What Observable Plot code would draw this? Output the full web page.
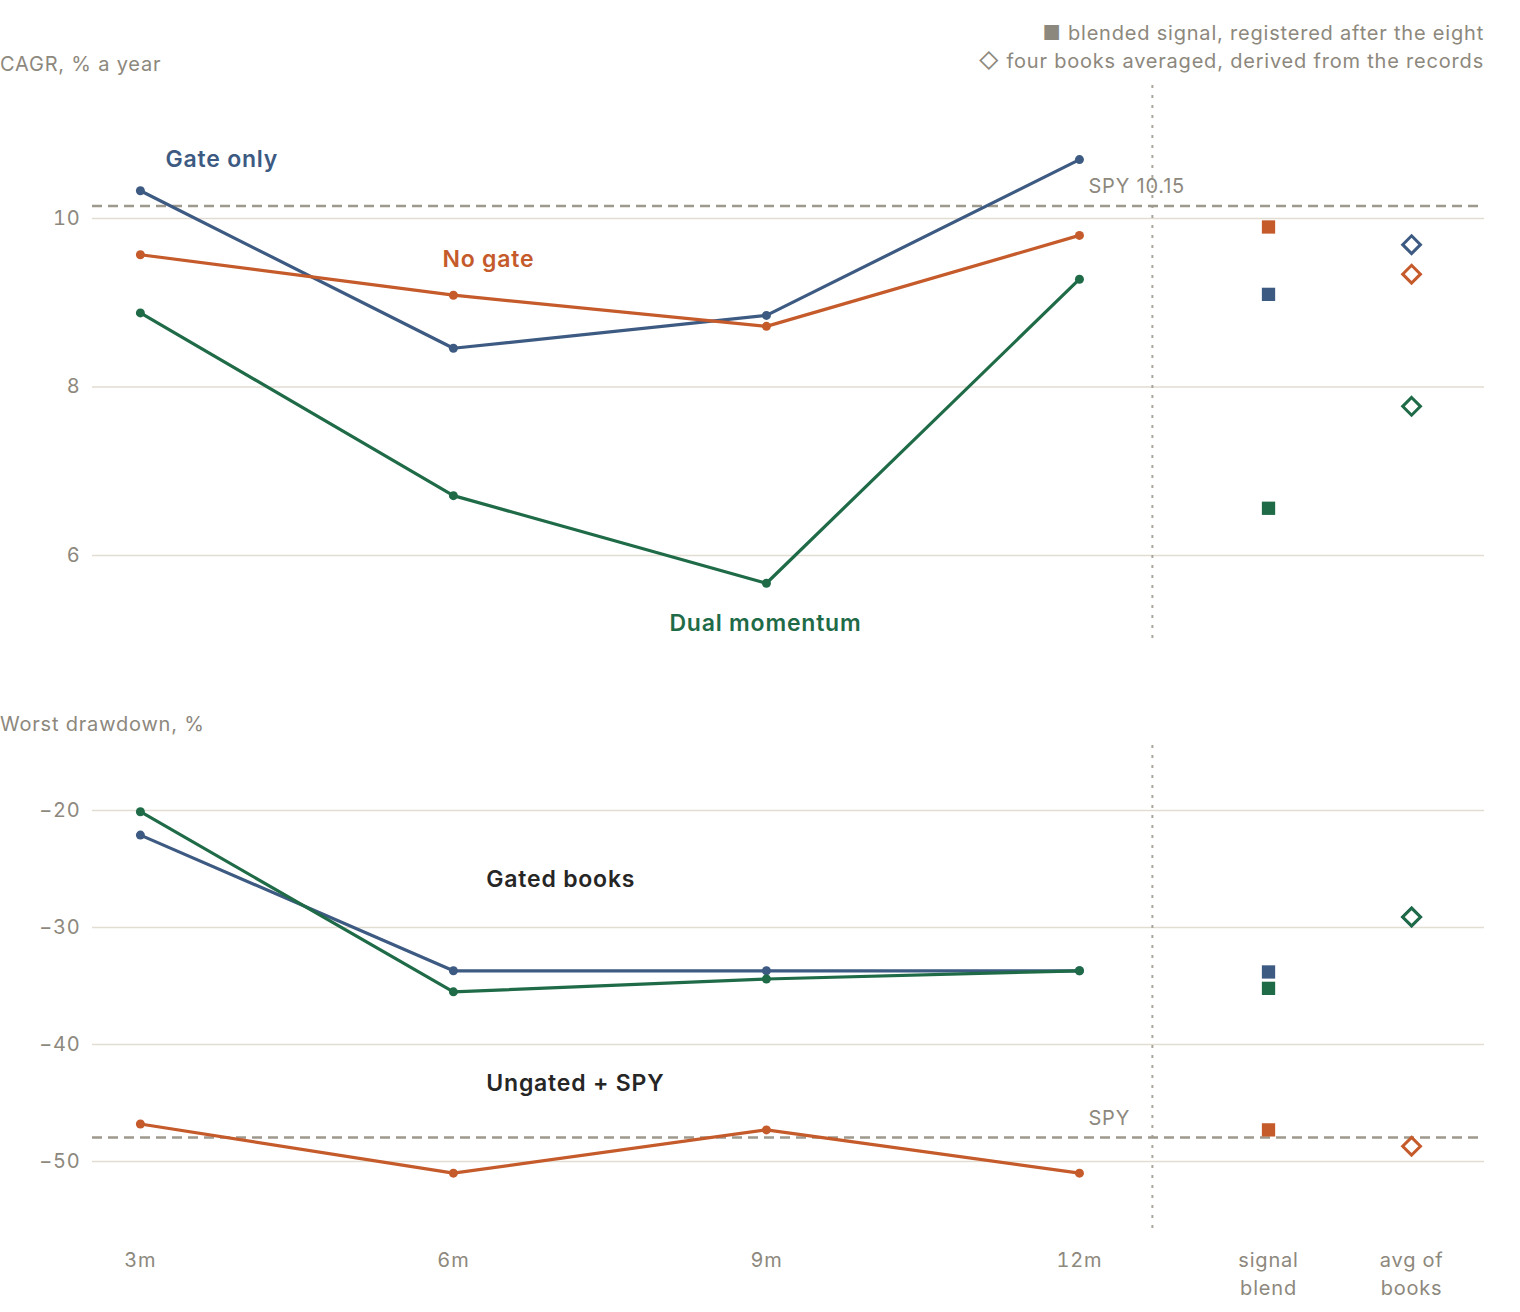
<!DOCTYPE html>
<html>
<head>
<meta charset="utf-8">
<script src="https://cdn.jsdelivr.net/npm/d3@7"></script>
<script src="https://cdn.jsdelivr.net/npm/@observablehq/plot@0.6"></script>
<style>
  html, body { margin: 0; padding: 0; background: #fff; }
  #root { position: relative; width: 1520px; height: 1312px; font-family: Inter, "Noto Sans", sans-serif; color: #8d887d; }
  .t { position: absolute; font-size: 20px; line-height: 24px; white-space: nowrap; letter-spacing: 0.8px; }
  .chart { position: absolute; left: 0; }
</style>
</head>
<body>
<div id="root"></div>
<script>
// ---- data ----
const horizons = ["3m", "6m", "9m", "12m"];
const books = ["Gate only", "No gate", "Dual momentum"];
const gateOnlyCagr = [10.33, 8.46, 8.85, 10.70];
const noGateCagr   = [9.57, 9.09, 8.72, 9.80];
const dualCagr     = [8.88, 6.71, 5.67, 9.28];
const blendCagr    = [9.10, 9.90, 6.56];   // signal blend, per book
const avgCagr      = [9.69, 9.34, 7.77];   // avg of books, per book
const spyCagr = 10.15;

const gateOnlyDd = [-22.1, -33.7, -33.7, -33.7];
const noGateDd   = [-46.8, -51.0, -47.3, -51.0];
const dualDd     = [-20.1, -35.5, -34.4, -33.7];
const blendDd    = [-33.8, -47.3, -35.2];
const avgDd      = [-29.1, -48.7, -29.1];
const spyDd = -47.95;

const extraCats = ["signal\nblend", "avg of\nbooks"];
const cagrTicks = [6, 8, 10];
const ddTicks = [-20, -30, -40, -50];

// ---- layout (x slots) ----
const slot = {"3m": 0, "6m": 1, "9m": 2, "12m": 3, blend: 3.604, avg: 4.061};
const divider = 3.233;
const xDomain = [-0.153, 4.294];
const colors = {"Gate only": "#3d5a82", "No gate": "#c55a2b", "Dual momentum": "#1f6b48"};
const grid = "#e2ddd2", dash = "#9e998d", muted = "#8d887d";
const font = "Inter, 'Noto Sans', sans-serif";

function seriesRows(arrs) {
  const rows = [];
  books.forEach((b, i) => arrs[i].forEach((v, j) => rows.push({book: b, x: slot[horizons[j]], v})));
  return rows;
}
function pointRows(arr, key) {
  return books.map((b, i) => ({book: b, x: slot[key], v: arr[i]}));
}
const minus = d => d < 0 ? "\u2212" + (-d) : String(d);

const root = document.getElementById("root");
function addText(txt, style) {
  const d = document.createElement("div");
  d.className = "t";
  d.textContent = txt;
  Object.assign(d.style, style);
  root.appendChild(d);
}
addText("\u25A0 blended signal, registered after the eight", {right: "36px", top: "21px"});
addText("\u25C7 four books averaged, derived from the records", {right: "36px", top: "49px"});
addText("CAGR, % a year", {left: "0px", top: "52px"});
addText("Worst drawdown, %", {left: "0px", top: "712px"});

function panel({lines, blend, avg, spy, spyLabel, ticks, yDomain, labels, height, marginBottom, showX}) {
  const marks = [
    Plot.ruleY(ticks, {stroke: grid, strokeWidth: 1.5}),
    Plot.ruleX([divider], {stroke: "#aaa59a", strokeWidth: 2, strokeDasharray: "3,7"}),
    Plot.ruleY([spy], {stroke: dash, strokeWidth: 2.5, strokeDasharray: "10,6"}),
    Plot.text([spyLabel], {x: slot["12m"], y: spy, text: d => d, dx: 9, dy: -19, textAnchor: "start", fill: muted, fontSize: 20}),
    Plot.axisY(ticks, {tickSize: 0, tickPadding: 12, tickFormat: minus, fontSize: 20, fill: muted, label: null}),
    Plot.line(lines, {x: "x", y: "v", z: "book", stroke: d => colors[d.book], strokeWidth: 3.2}),
    Plot.dot(lines, {x: "x", y: "v", fill: d => colors[d.book], r: 4.5}),
    Plot.dot(blend, {x: "x", y: "v", symbol: "square", fill: d => colors[d.book], r: 7.5}),
    Plot.dot(avg, {x: "x", y: "v", symbol: "diamond2", stroke: d => colors[d.book], strokeWidth: 3, fill: "white", r: 8}),
    Plot.text(labels, {x: "x", y: "v", text: "text", fill: "fill", textAnchor: "start", fontSize: 23, fontWeight: 600})
  ];
  if (showX) {
    marks.push(Plot.axisX([0, 1, 2, 3, slot.blend, slot.avg], {
      tickSize: 0, tickPadding: 19, fontSize: 20, fill: muted, lineHeight: 1.4, label: null,
      tickFormat: d => [...horizons, ...extraCats][[0, 1, 2, 3, slot.blend, slot.avg].indexOf(d)]
    }));
  }
  return Plot.plot({
    width: 1520, height, marginLeft: 92, marginRight: 36, marginTop: 5, marginBottom,
    style: {fontFamily: font, fontSize: "20px", color: muted, background: "white", letterSpacing: "0.8px"},
    x: {type: "linear", domain: xDomain, axis: null},
    y: {domain: yDomain, axis: null},
    marks
  });
}

const topChart = panel({
  lines: seriesRows([gateOnlyCagr, noGateCagr, dualCagr]),
  blend: pointRows(blendCagr, "blend"),
  avg: pointRows(avgCagr, "avg"),
  spy: spyCagr, spyLabel: "SPY 10.15",
  ticks: cagrTicks,
  yDomain: [4.99, 11.58],
  labels: [
    {x: 0.08, v: 10.70, text: "Gate only", fill: colors["Gate only"]},
    {x: 0.965, v: 9.51, text: "No gate", fill: colors["No gate"]},
    {x: 1.69, v: 5.19, text: "Dual momentum", fill: colors["Dual momentum"]}
  ],
  height: 570, marginBottom: 10, showX: false
});
topChart.classList.add("chart");
topChart.style.top = "80px";
root.appendChild(topChart);

const bottomChart = panel({
  lines: seriesRows([gateOnlyDd, noGateDd, dualDd]),
  blend: pointRows(blendDd, "blend"),
  avg: pointRows(avgDd, "avg"),
  spy: spyDd, spyLabel: "SPY",
  ticks: ddTicks,
  yDomain: [-55.73, -14.44],
  labels: [
    {x: 1.105, v: -25.9, text: "Gated books", fill: "#262626"},
    {x: 1.105, v: -43.33, text: "Ungated + SPY", fill: "#262626"}
  ],
  height: 572, marginBottom: 84, showX: true
});
bottomChart.classList.add("chart");
bottomChart.style.top = "740px";
root.appendChild(bottomChart);

// wider tracking for the series labels
document.querySelectorAll("svg text").forEach(t => {
  if (t.getAttribute("font-weight") === "600") t.style.letterSpacing = "1.4px";
});
</script>
</body>
</html>
